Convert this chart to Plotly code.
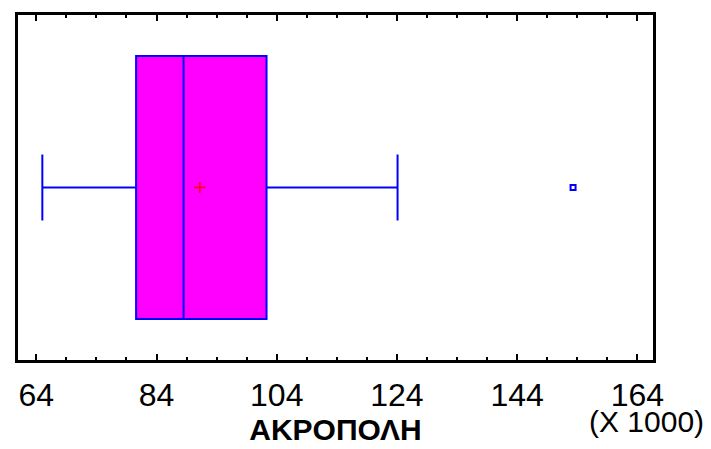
import plotly.graph_objects as go

# Summary statistics (values in thousands)
category = ["ΑΚΡΟΠΟΛΗ"]
q1 = [80.6]
median = [88.5]
q3 = [102.3]
lower_fence = [65.0]
upper_fence = [124.1]
mean = [91.2]
outliers = [153.3]
tick_values = [64, 84, 104, 124, 144, 164]
tick_labels = ["64", "84", "104", "124", "144", "164"]

fig = go.Figure()
fig.add_trace(go.Box(
    y=[0], q1=q1, median=median, q3=q3,
    lowerfence=lower_fence, upperfence=upper_fence,
    orientation="h", width=0.763, whiskerwidth=0.25,
    fillcolor="#ff00ff", line=dict(color="#0000ff", width=2),
    boxpoints=False, name=category[0], showlegend=False,
))
fig.add_trace(go.Scatter(
    x=mean, y=[0], mode="markers", showlegend=False,
    marker=dict(symbol="cross-thin", size=8, line=dict(color="#ff0000", width=1.5)),
))
fig.add_trace(go.Scatter(
    x=outliers, y=[0] * len(outliers), mode="markers", showlegend=False,
    marker=dict(symbol="square-open", size=5, color="#0000ff", line=dict(color="#0000ff", width=2)),
))

fig.update_layout(
    width=711, height=449,
    margin=dict(l=18, r=58, t=13, b=85),
    plot_bgcolor="white", paper_bgcolor="white",
    font=dict(family="Liberation Sans, Arial, sans-serif", color="black"),
    xaxis=dict(
        range=[60.95, 166.6], tickvals=tick_values, ticktext=tick_labels,
        ticks="inside", ticklen=6, tickwidth=2, tickcolor="black",
        minor=dict(ticks="inside", ticklen=3, tickwidth=1.5, dtick=5, tick0=64, tickcolor="black"),
        showline=True, linecolor="black", linewidth=2.5, mirror="ticks",
        showgrid=False, zeroline=False,
        tickfont=dict(size=32), ticklabelstandoff=5,
        title=dict(text="<b>ΑΚΡΟΠΟΛΗ</b>", font=dict(size=30), standoff=3),
    ),
    yaxis=dict(
        range=[-0.5, 0.5], showticklabels=False, ticks="",
        showline=True, linecolor="black", linewidth=2.5, mirror=True,
        showgrid=False, zeroline=False,
    ),
)
fig.add_annotation(
    text="(X 1000)", xref="paper", yref="paper",
    x=(646 - 18) / (711 - 18 - 58), y=(449 - 85 - 427) / (449 - 13 - 85),
    xanchor="center", yanchor="middle",
    showarrow=False, font=dict(size=30),
)
fig.write_html("out.html")
